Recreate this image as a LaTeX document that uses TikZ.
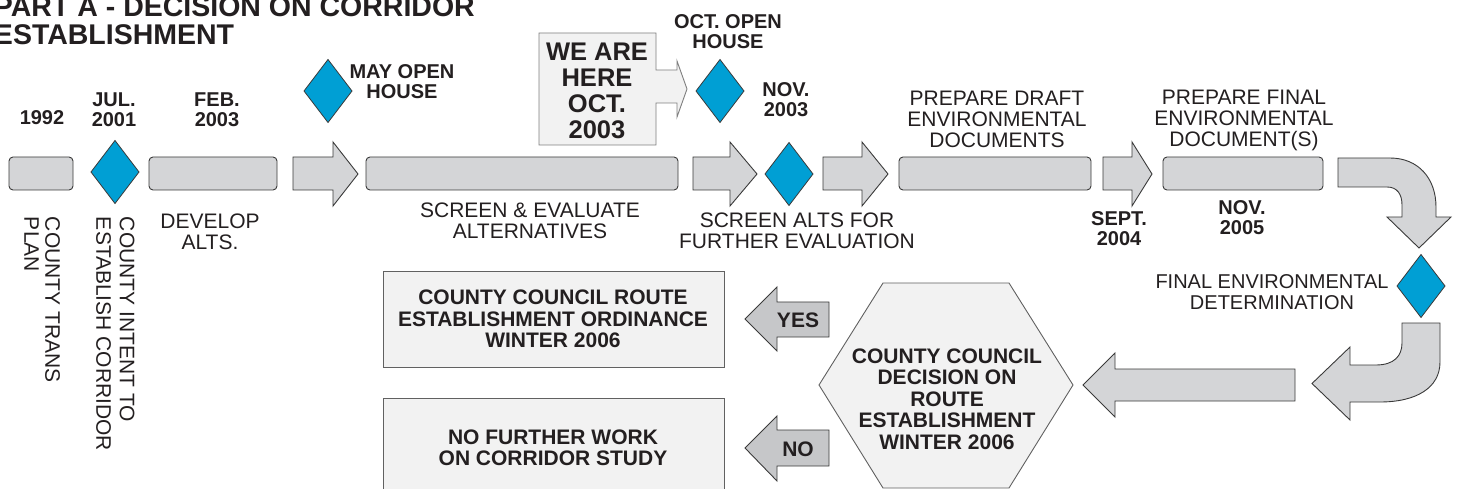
\documentclass[tikz,border=0pt]{standalone}
\usepackage{fontspec}
\setmainfont{Liberation Sans}
\usetikzlibrary{shapes.geometric}
\definecolor{boxgray}{HTML}{D4D5D7}
\definecolor{dblue}{HTML}{009FD4}
\definecolor{pale}{HTML}{F2F2F2}
\definecolor{yngray}{HTML}{C6C7C9}
\definecolor{edge}{HTML}{3A3A3A}
\definecolor{txt}{HTML}{231F20}
\newcommand{\rightblk}[3]{\draw[blk] (#1,157) -- (#2,157) -- (#2,142) -- (#3,174) -- (#2,206) -- (#2,190) -- (#1,190) -- cycle;}
\begin{document}
\begin{tikzpicture}[x=1pt,y=-1pt,
  every node/.style={inner sep=0pt, outer sep=0pt, text=txt},
  bar/.style={draw=edge, fill=boxgray, line width=0.9pt, rounded corners=4pt, minimum height=33pt},
  blk/.style={draw=edge, fill=boxgray, line width=0.9pt, line join=miter},
  mile/.style={diamond, draw=edge, fill=dblue, line width=0.8pt, minimum width=48pt, minimum height=63pt},
  lbl/.style={font=\fontsize{20}{20}\selectfont\bfseries, align=center},
  big/.style={font=\fontsize{21}{21.5}\selectfont\bfseries, align=center},
  reg/.style={font=\fontsize{21}{21}\selectfont, align=center},
  panel/.style={draw=edge!80, fill=pale, line width=0.9pt}
]
\useasboundingbox (0,0) rectangle (1460,489);

% title
\node[anchor=north west, font=\fontsize{28.5}{28}\selectfont\bfseries, align=left] (title) at (-6,-3) {PART A - DECISION ON CORRIDOR\\ESTABLISHMENT};

% top row bars
\node[bar, minimum width=64pt] (b1992) at (41,173.5) {};
\node[bar, minimum width=128pt] (bdev) at (213,173.5) {};
\node[bar, minimum width=312pt] (bscreen) at (522,173.5) {};
\node[bar, minimum width=192pt] (bdraft) at (995,173.5) {};
\node[bar, minimum width=160pt] (bfinal) at (1243,173.5) {};

% block arrows in the top row
\rightblk{293}{333}{358}
\rightblk{693}{730}{757}
\rightblk{823}{862}{888}
\rightblk{1103}{1132}{1152}

% milestones
\node[mile] (d2001) at (115,172) {};
\node[mile] (dmay) at (328,91) {};
\node[mile] (doct) at (720,91) {};
\node[mile] (dnov) at (789,174) {};
\node[mile] (dfinal) at (1421,286) {};

% labels above / below
\node[lbl] (t1992) at (42,118) {1992};
\node[lbl] (t2001) at (114,110) {JUL.\\2001};
\node[lbl] (t2003) at (217,110) {FEB.\\2003};
\node[lbl] (tmay) at (402,82) {MAY OPEN\\HOUSE};
\node[lbl] (toct) at (728,32) {OCT. OPEN\\HOUSE};
\node[lbl] (tnov) at (786,99.5) {NOV.\\2003};
\node[lbl] (tsept) at (1119,229) {SEPT.\\2004};
\node[lbl] (tnov5) at (1242,218) {NOV.\\2005};

\node[reg] (tdraft) at (997,119.5) {PREPARE DRAFT\\ENVIRONMENTAL\\DOCUMENTS};
\node[reg] (tfinal) at (1244,120.5) {PREPARE FINAL\\ENVIRONMENTAL\\DOCUMENT(S)};
\node[reg] (tscreen) at (530,221) {SCREEN \& EVALUATE\\ALTERNATIVES};
\node[reg] (talts) at (797,231) {SCREEN ALTS FOR\\FURTHER EVALUATION};
\node[reg] (tdev) at (210,232) {DEVELOP\\ALTS.};
\node[reg, font=\fontsize{20}{21}\selectfont] (tdet) at (1272,292.5) {FINAL ENVIRONMENTAL\\DETERMINATION};

\node[font=\fontsize{21}{21}\selectfont, align=left, rotate=-90, anchor=north west] (vt1) at (60,217) {COUNTY TRANS\\PLAN};
\node[font=\fontsize{21}{23.5}\selectfont, align=left, rotate=-90, anchor=north west] (vt2) at (134.5,217) {COUNTY INTENT TO\\ESTABLISH CORRIDOR};

% we are here callout
\draw[draw=edge!65, fill=pale, line width=0.9pt] (539,33) -- (656,33) -- (656,70) -- (677,70) -- (677,61) -- (687,89) -- (677,117) -- (677,103) -- (656,103) -- (656,145) -- (539,145) -- cycle;
\node[font=\fontsize{25.5}{26}\selectfont\bfseries, align=center] (here) at (597,91) {WE ARE\\HERE\\OCT.\\2003};

% curved arrow down
\draw[blk] (1338,158) -- (1390,158) .. controls (1418,158) and (1436,178) .. (1436,207) -- (1436,217) -- (1451,217) -- (1419,248) -- (1387,217) -- (1402,217) -- (1402,205) .. controls (1402,194) and (1397,187) .. (1387,187) -- (1338,187) -- cycle;

% curved arrow to the left
\draw[blk] (1402,323) -- (1440,323) -- (1440,362) .. controls (1440,388) and (1416,402) .. (1380,402) -- (1350,402) -- (1350,420) -- (1312,383.5) -- (1350,347) -- (1350,365) -- (1376,365) .. controls (1394,365) and (1402,356) .. (1402,343) -- cycle;

% long left arrow
\draw[blk] (1295,369) -- (1115,369) -- (1115,353) -- (1083,385) -- (1115,417) -- (1115,401) -- (1295,401) -- cycle;

% decision hexagon
\draw[panel] (883,283) -- (1009,283) -- (1073,385) -- (1009,488) -- (883,488) -- (819,385) -- cycle;
\node[big] (hex) at (947,399) {COUNTY COUNCIL\\DECISION ON\\ROUTE\\ESTABLISHMENT\\WINTER 2006};

% yes / no arrows
\draw[blk, fill=yngray] (829,302) -- (777,302) -- (777,287) -- (745,319) -- (777,351) -- (777,337) -- (829,337) -- cycle;
\node[big] (yes) at (798,320) {YES};
\draw[blk, fill=yngray] (829,430) -- (777,430) -- (777,416) -- (745,448) -- (777,481) -- (777,466) -- (829,466) -- cycle;
\node[big] (no) at (798,449) {NO};

% outcome boxes
\node[panel, minimum width=341pt, minimum height=96pt] (ordin) at (553.5,319) {};
\node[big] (tordin) at (553,319) {COUNTY COUNCIL ROUTE\\ESTABLISHMENT ORDINANCE\\WINTER 2006};
\node[panel, minimum width=341pt, minimum height=100pt] (nowork) at (553.5,448) {};
\node[big] (tnowork) at (553,448) {NO FURTHER WORK\\ON CORRIDOR STUDY};
\end{tikzpicture}
\end{document}
